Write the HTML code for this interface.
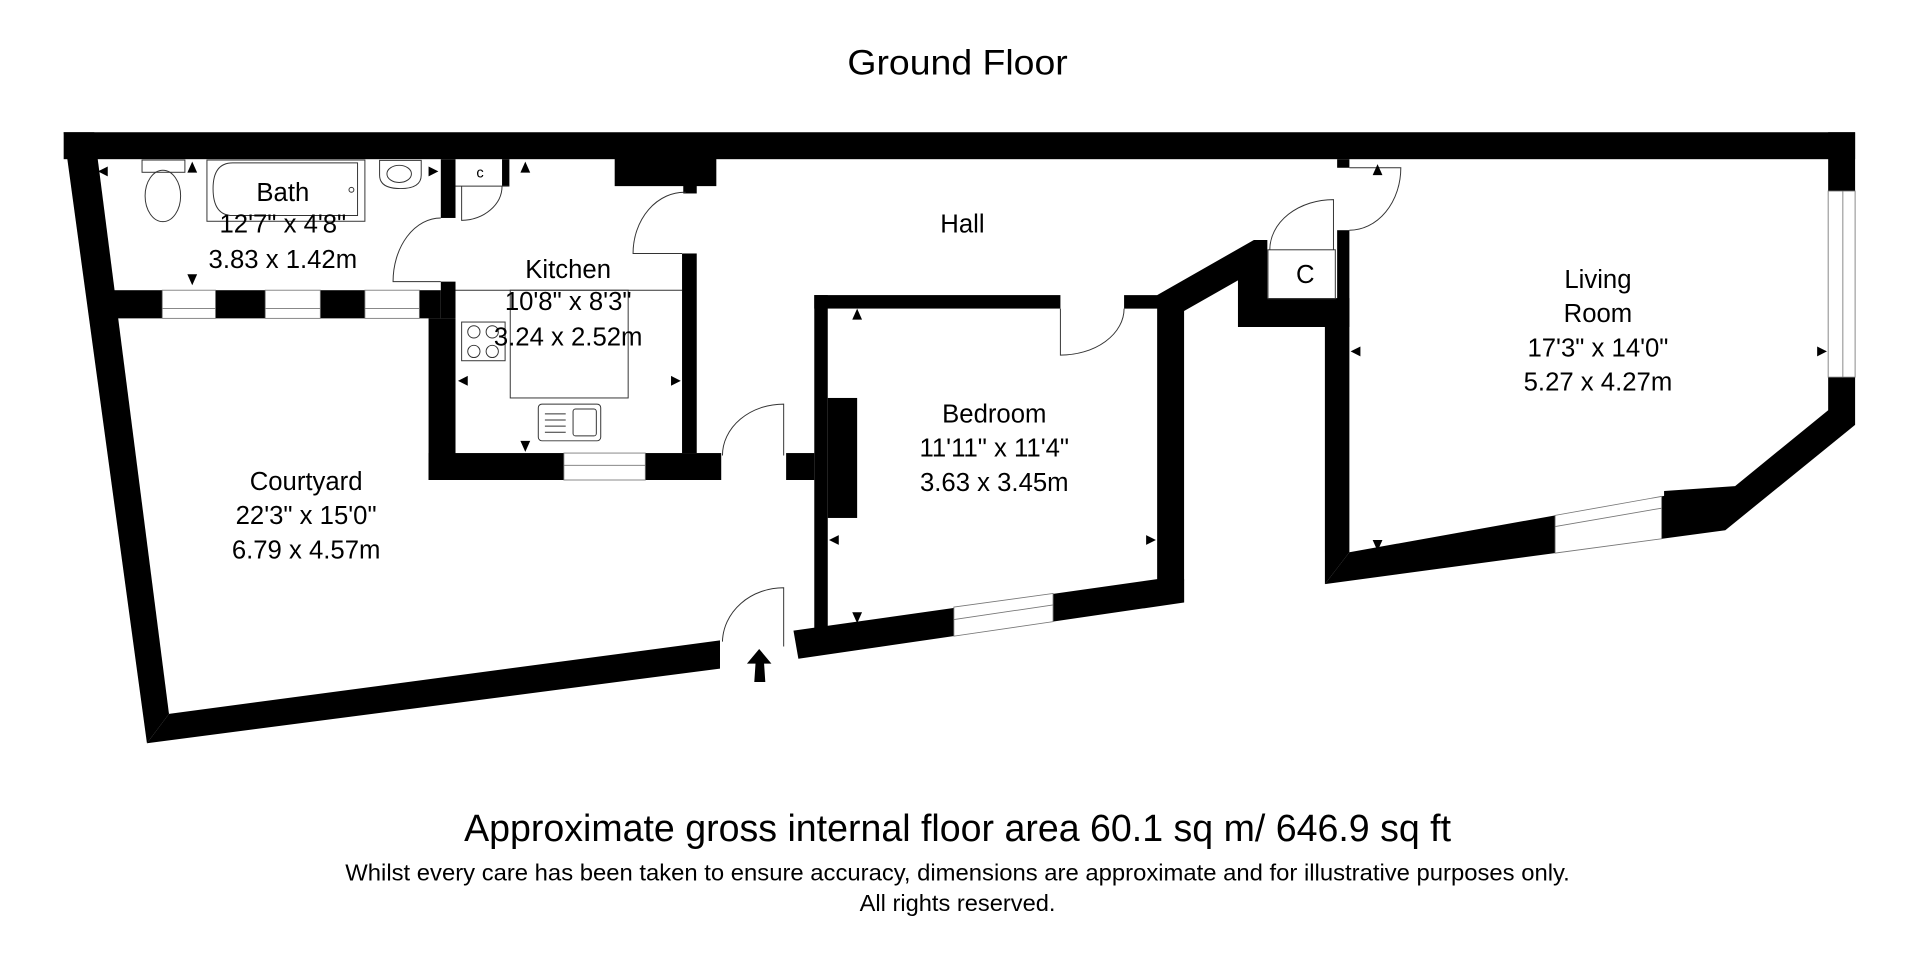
<!DOCTYPE html>
<html><head><meta charset="utf-8"><style>
html,body{margin:0;padding:0;background:#fff;width:1920px;height:960px;overflow:hidden}
svg{display:block}
text{font-family:"Liberation Sans",sans-serif;fill:#000}
</style></head><body>
<svg width="1920" height="960" viewBox="0 0 1568 784" xmlns="http://www.w3.org/2000/svg">
<rect width="1568" height="784" fill="#fff"/>
<text x="782" y="61" font-size="29" text-anchor="middle" textLength="180" lengthAdjust="spacingAndGlyphs">Ground Floor</text>

<g fill="#000">
<rect x="52" y="108" width="1463" height="22"/>
<polygon points="52,108 77,108 138,583 120,607"/>
<polygon points="120,607 138,583 588,523 588,546"/>
<rect x="85" y="237" width="275" height="23"/>
<rect x="360" y="130" width="12" height="48"/>
<rect x="360" y="230" width="12" height="30"/>
<rect x="350" y="260" width="22" height="132"/>
<rect x="350" y="370" width="239" height="22"/>
<rect x="557" y="207" width="12" height="163"/>
<rect x="502" y="127" width="83" height="25"/>
<rect x="558" y="150" width="11" height="8"/>
<rect x="410" y="130" width="6" height="22"/>
<rect x="642" y="370" width="23" height="22"/>
<rect x="665" y="241" width="11" height="272"/>
<rect x="676" y="325" width="24" height="98"/>
<rect x="665" y="241" width="201" height="11"/>
<polygon points="918,241 945,241 1024,196 1035,196 1035,243.5 1102,243.5 1102,267 1011,267 1011,229 967,254 967,492 945,492 945,252 918,252"/>
<polygon points="648,515 945,473 967,473 967,492 652,538"/>
<rect x="1092" y="130" width="10" height="7"/>
<rect x="1092" y="188" width="10" height="79"/>
<polygon points="1082,267 1102,267 1102,451 1082,477"/>
<polygon points="1082,477 1102,451 1359,405 1359,401 1417,397 1493,335 1493,308 1515,308 1515,347 1409,433"/>
<rect x="1493" y="108" width="22" height="48"/>
</g>

<!-- windows -->
<g fill="#fff" stroke="#777" stroke-width="0.7">
<rect x="132.5" y="237" width="43.5" height="23"/><line x1="132.5" y1="252" x2="176" y2="252"/>
<rect x="216.6" y="237" width="45" height="23"/><line x1="216.6" y1="252" x2="261.6" y2="252"/>
<rect x="298" y="237" width="44.5" height="23"/><line x1="298" y1="252" x2="342.5" y2="252"/>
<rect x="460.5" y="370" width="66.5" height="22"/><line x1="460.5" y1="380" x2="527" y2="380"/>
<polygon points="779,495.8 860,484.7 860,507.7 779,519.5"/><line x1="779" y1="506" x2="860" y2="494"/>
<polygon points="1270,420.9 1357,405.4 1357,440 1270,451.7"/><line x1="1270" y1="430" x2="1357" y2="415"/>
<rect x="1493" y="156" width="22" height="152"/><line x1="1505" y1="156" x2="1505" y2="308"/>
</g>

<!-- doors & fixtures -->
<g fill="none" stroke="#333" stroke-width="0.8">
<path d="M360,230 L321,230 A39,52 0 0 1 360,178"/>
<path d="M377,152 L377,180 A34,28 0 0 0 410,152"/>
<line x1="372" y1="152" x2="416" y2="152"/>
<path d="M557,207 L517,207 A42,50 0 0 1 560,157"/>
<path d="M640,372 L640,330 A50,42 0 0 0 590,372"/>
<path d="M640,528 L640,480 A50,45 0 0 0 590,524"/>
<path d="M866,252 L866,290 A52,38 0 0 0 918,252"/>
<path d="M1089,204 L1089,163 A52,41 0 0 0 1037,204"/>
<rect x="1035.5" y="204" width="55" height="40"/>
<path d="M1102,137 L1144,137 A42,51 0 0 1 1102,188"/>
<rect x="116" y="130.7" width="35" height="10"/>
<ellipse cx="133" cy="160" rx="14.5" ry="21"/>
<rect x="169" y="130.7" width="129" height="50"/>
<path d="M190,133 L292,133 L292,176 L190,176 Q174,176 174,154 Q174,133 190,133 Z"/>
<circle cx="287" cy="155" r="2"/>
<path d="M310,131 L344,131 L344,143 Q344,154 327,154 Q310,154 310,143 Z"/>
<ellipse cx="326" cy="142" rx="10" ry="7"/>
<line x1="372" y1="237" x2="557" y2="237"/>
<rect x="377" y="263" width="35.5" height="31.6"/>
<circle cx="387" cy="271" r="5"/><circle cx="402" cy="271" r="5"/>
<circle cx="387" cy="287" r="5"/><circle cx="402" cy="287" r="5"/>
<rect x="416.7" y="237" width="96.3" height="88"/>
<rect x="439.6" y="330" width="51" height="30" rx="3"/>
<rect x="468" y="334" width="19" height="22" rx="2"/>
<line x1="445" y1="338" x2="462" y2="338"/><line x1="445" y1="343" x2="462" y2="343"/>
<line x1="445" y1="348" x2="462" y2="348"/><line x1="445" y1="353" x2="462" y2="353"/>
</g>

<!-- entry arrow -->
<polygon points="620,530 630,542 624,542 625,557 616,557 617,542 610,542" fill="#000"/>

<!-- dimension markers -->
<g fill="#000">
<polygon points="80,140 88,136 88,144"/>
<polygon points="157,132 153,141 161,141"/>
<polygon points="157,233 153,224 161,224"/>
<polygon points="358,140 350,136 350,144"/>
<polygon points="429,132 425,141 433,141"/>
<polygon points="374,311 382,307 382,315"/>
<polygon points="556,311 548,307 548,315"/>
<polygon points="429,369 425,360 433,360"/>
<polygon points="700,252 696,261 704,261"/>
<polygon points="700,509 696,500 704,500"/>
<polygon points="677,441 685,437 685,445"/>
<polygon points="944,441 936,437 936,445"/>
<polygon points="1125,134 1121,143 1129,143"/>
<polygon points="1125,450 1121,441 1129,441"/>
<polygon points="1103,287 1111,283 1111,291"/>
<polygon points="1492,287 1484,283 1484,291"/>
</g>

<g font-size="21" text-anchor="middle">
<text x="231" y="164">Bath</text>
<text x="231" y="190">12'7" x 4'8"</text>
<text x="231" y="219">3.83 x 1.42m</text>
<text x="464" y="227">Kitchen</text>
<text x="464" y="253">10'8" x 8'3"</text>
<text x="464" y="282">3.24 x 2.52m</text>
<text x="786" y="190">Hall</text>
<text x="812" y="345">Bedroom</text>
<text x="812" y="373">11'11" x 11'4"</text>
<text x="812" y="401">3.63 x 3.45m</text>
<text x="250" y="400">Courtyard</text>
<text x="250" y="428">22'3" x 15'0"</text>
<text x="250" y="456">6.79 x 4.57m</text>
<text x="1305" y="235">Living</text>
<text x="1305" y="263">Room</text>
<text x="1305" y="291">17'3" x 14'0"</text>
<text x="1305" y="319">5.27 x 4.27m</text>
<text x="1066" y="231">C</text>
</g>
<text x="392" y="145" font-size="12" text-anchor="middle">c</text>

<text x="782" y="687" font-size="31" text-anchor="middle" textLength="806" lengthAdjust="spacingAndGlyphs">Approximate gross internal floor area 60.1 sq m/ 646.9 sq ft</text>
<text x="782" y="719" font-size="19" text-anchor="middle" textLength="1000" lengthAdjust="spacingAndGlyphs">Whilst every care has been taken to ensure accuracy, dimensions are approximate and for illustrative purposes only.</text>
<text x="782" y="744" font-size="19" text-anchor="middle" textLength="160" lengthAdjust="spacingAndGlyphs">All rights reserved.</text>
</svg>
</body></html>
